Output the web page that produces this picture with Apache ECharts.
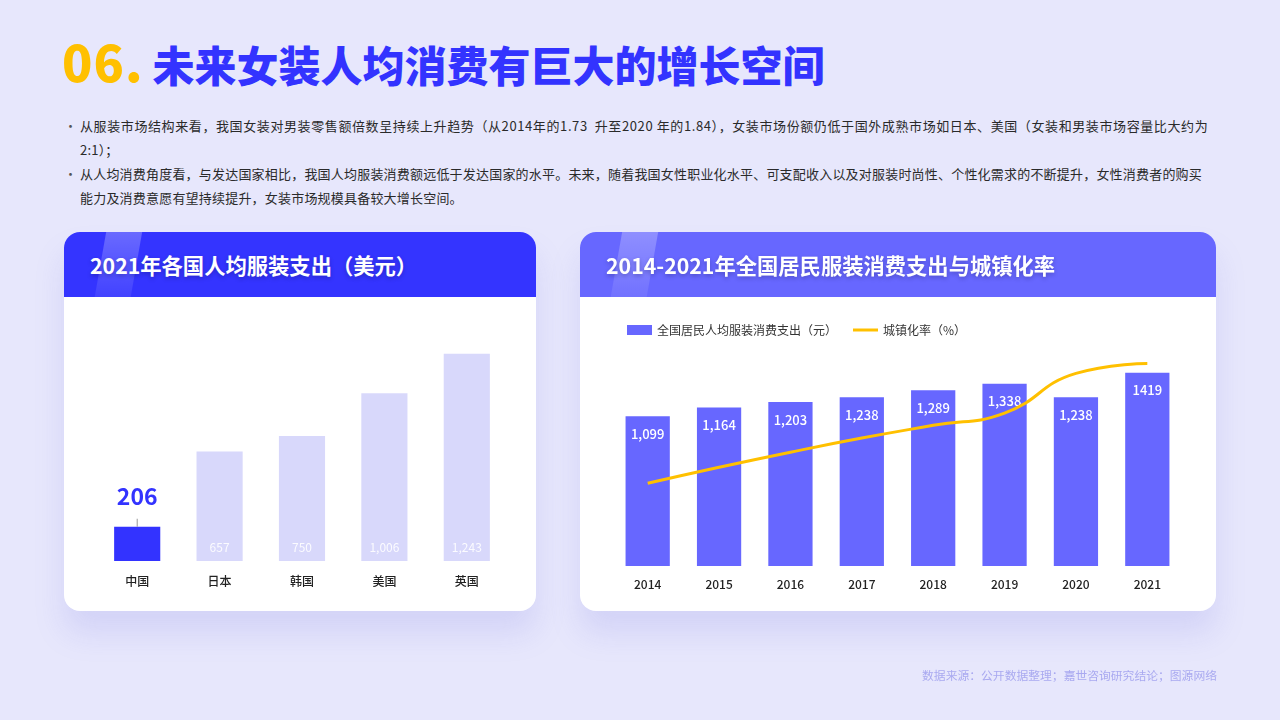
<!DOCTYPE html>
<html>
<head>
<meta charset="utf-8">
<script src="https://cdn.jsdelivr.net/npm/echarts@6/dist/echarts.min.js"></script>
<style>
  html, body { margin: 0; padding: 0; }
  body {
    width: 1280px; height: 720px; position: relative; overflow: hidden;
    background: #E7E7FC;
    font-family: "Noto Sans CJK SC", "Noto Sans", sans-serif;
  }
  .title {
    position: absolute; left: 62px; top: 34px;
    font-size: 42px; line-height: 52px; font-weight: 900; color: #3333FF;
    white-space: nowrap;
  }
  .title .num { color: #FFC000; font-size: 50px; letter-spacing: 1px; margin-right: 9px; }
  .bullets {
    position: absolute; left: 64px; top: 114px; width: 1170px;
    font-size: 13px; line-height: 24px; color: #2a2a2a; letter-spacing: 0.2px;
  }
  .bullets .b { position: relative; padding-left: 16px; white-space: nowrap; }
  .bullets .b:before {
    content: "•"; position: absolute; left: 0; top: 0; color: #555;
  }
  .bullets .wide { letter-spacing: 0.6px; }
  .card {
    position: absolute; top: 232px; height: 379px;
    background: #fff; border-radius: 16px; overflow: hidden;
    box-shadow: 0 22px 30px rgba(120, 120, 230, 0.18);
  }
  .card .head {
    position: absolute; left: 0; top: 0; right: 0; height: 65px;
    overflow: hidden;
  }
  .card .head:before {
    content: ""; position: absolute; left: 36px; top: -5px; width: 36px; height: 80px;
    transform: skewX(-10deg);
    background: linear-gradient(to bottom, rgba(255,255,255,0.28), rgba(255,255,255,0.04));
  }
  .card .head span {
    position: absolute; left: 26px; top: 0; line-height: 65px;
    font-size: 21.3px; font-weight: 700; color: #fff;
    text-shadow: 0 2px 4px rgba(0,0,40,0.25);
    white-space: nowrap;
  }
  .chart { position: absolute; left: 0; top: 65px; right: 0; bottom: 0; }
  .note {
    position: absolute; right: 63px; top: 666px;
    font-size: 11.8px; line-height: 18px; color: #A9A9F0; white-space: nowrap;
  }
</style>
</head>
<body>
  <div class="title"><span class="num">06.</span>未来女装人均消费有巨大的增长空间</div>
  <div class="bullets">
    <div class="b"><span class="wide">从服装市场结构来看，我国女装对男装零售额倍数呈持续上升趋势（从2014年的1.73&nbsp; 升至2020&nbsp;年的1.84），女装市场份额仍低于国外成熟市场如日本、美国（女装和男装市场容量比大约为</span><br>2:1）；</div>
    <div class="b">从人均消费角度看，与发达国家相比，我国人均服装消费额远低于发达国家的水平。未来，随着我国女性职业化水平、可支配收入以及对服装时尚性、个性化需求的不断提升，女性消费者的购买<br>能力及消费意愿有望持续提升，女装市场规模具备较大增长空间。</div>
  </div>

  <div class="card" style="left:64px;width:472px;">
    <div class="head" style="background:#3434FF;"><span>2021年各国人均服装支出（美元）</span></div>
    <div class="chart" id="left"></div>
  </div>

  <div class="card" style="left:580px;width:636px;">
    <div class="head" style="background:#6767FF;"><span>2014-2021年全国居民服装消费支出与城镇化率</span></div>
    <div class="chart" id="right"></div>
  </div>

  <div class="note">数据来源：公开数据整理；嘉世咨询研究结论；图源网络</div>

<script>
// 2021 per-capita clothing spend (USD)
const countries = ['中国', '日本', '韩国', '美国', '英国'];
const spend2021 = [206, 657, 750, 1006, 1243];

// 2014-2021 clothing spend (CNY) and urbanization rate (%)
const years = ['2014', '2015', '2016', '2017', '2018', '2019', '2020', '2021'];
const clothingSpend = [1099, 1164, 1203, 1238, 1289, 1338, 1238, 1419];
const urbanRate = [54.77, 56.1, 57.35, 58.52, 59.58, 60.6, 63.89, 64.72];

const fontFamily = '"Noto Sans CJK SC", sans-serif';

const leftChart = echarts.init(document.getElementById('left'));
leftChart.setOption({
  textStyle: { fontFamily: fontFamily },
  grid: { left: 32, right: 28, top: 14, bottom: 50 },
  xAxis: {
    type: 'category',
    data: countries,
    axisLine: { show: false },
    axisTick: { show: false },
    axisLabel: { margin: 14, fontSize: 12, color: '#222', fontWeight: 500 }
  },
  yAxis: { type: 'value', min: 0, max: 1500, show: false, splitLine: { show: false } },
  series: [{
    type: 'bar',
    barWidth: '56%',
    animation: false,
    data: spend2021.map((v, i) => {
      if (i === 0) {
        return {
          value: v,
          itemStyle: { color: '#3333FF' },
          label: {
            show: true,
            position: 'top',
            distance: 0,
            formatter: '{v|{c}}\n{l|}',
            rich: {
              v: { fontSize: 23, fontWeight: 'bold', color: '#3333FF', lineHeight: 44 },
              l: { width: 1, height: 8, lineHeight: 8, backgroundColor: '#999' }
            }
          }
        };
      }
      return {
        value: v,
        itemStyle: { color: '#D8D8FB' },
        label: {
          show: true,
          position: 'insideBottom',
          distance: 8,
          fontSize: 12,
          color: 'rgba(255,255,255,0.9)',
          formatter: p => p.value.toLocaleString('en-US')
        }
      };
    })
  }]
});

const rightChart = echarts.init(document.getElementById('right'));
rightChart.setOption({
  textStyle: { fontFamily: fontFamily },
  legend: {
    left: 42,
    top: 22,
    itemWidth: 25,
    itemHeight: 10,
    itemGap: 16,
    textStyle: { fontSize: 12, color: '#333' },
    data: [
      { name: '全国居民人均服装消费支出（元）', icon: 'rect' },
      { name: '城镇化率（%）', icon: 'path://M0,0 L25,0 L25,3 L0,3 Z', itemStyle: { color: '#FFC000' } }
    ]
  },
  grid: { left: 32, right: 33, top: 51, bottom: 45 },
  xAxis: {
    type: 'category',
    data: years,
    axisLine: { show: false },
    axisTick: { show: false },
    axisLabel: { margin: 12, fontSize: 12, color: '#222', fontWeight: 500 }
  },
  yAxis: [
    { type: 'value', min: 0, max: 1600, show: false, splitLine: { show: false } },
    { type: 'value', min: 47.9, max: 66, show: false, splitLine: { show: false } }
  ],
  series: [
    {
      name: '全国居民人均服装消费支出（元）',
      type: 'bar',
      barWidth: '62%',
      animation: false,
      itemStyle: { color: '#6767FF' },
      label: {
        show: true,
        position: 'insideTop',
        distance: 11,
        fontSize: 13,
        fontWeight: 500,
        color: '#fff',
        formatter: p => p.dataIndex === 7 ? String(p.value) : p.value.toLocaleString('en-US')
      },
      data: clothingSpend
    },
    {
      name: '城镇化率（%）',
      type: 'line',
      yAxisIndex: 1,
      smooth: 0.5,
      symbol: 'none',
      animation: false,
      lineStyle: { color: '#FFC000', width: 3 },
      itemStyle: { color: '#FFC000' },
      data: urbanRate
    }
  ]
});
</script>
</body>
</html>
